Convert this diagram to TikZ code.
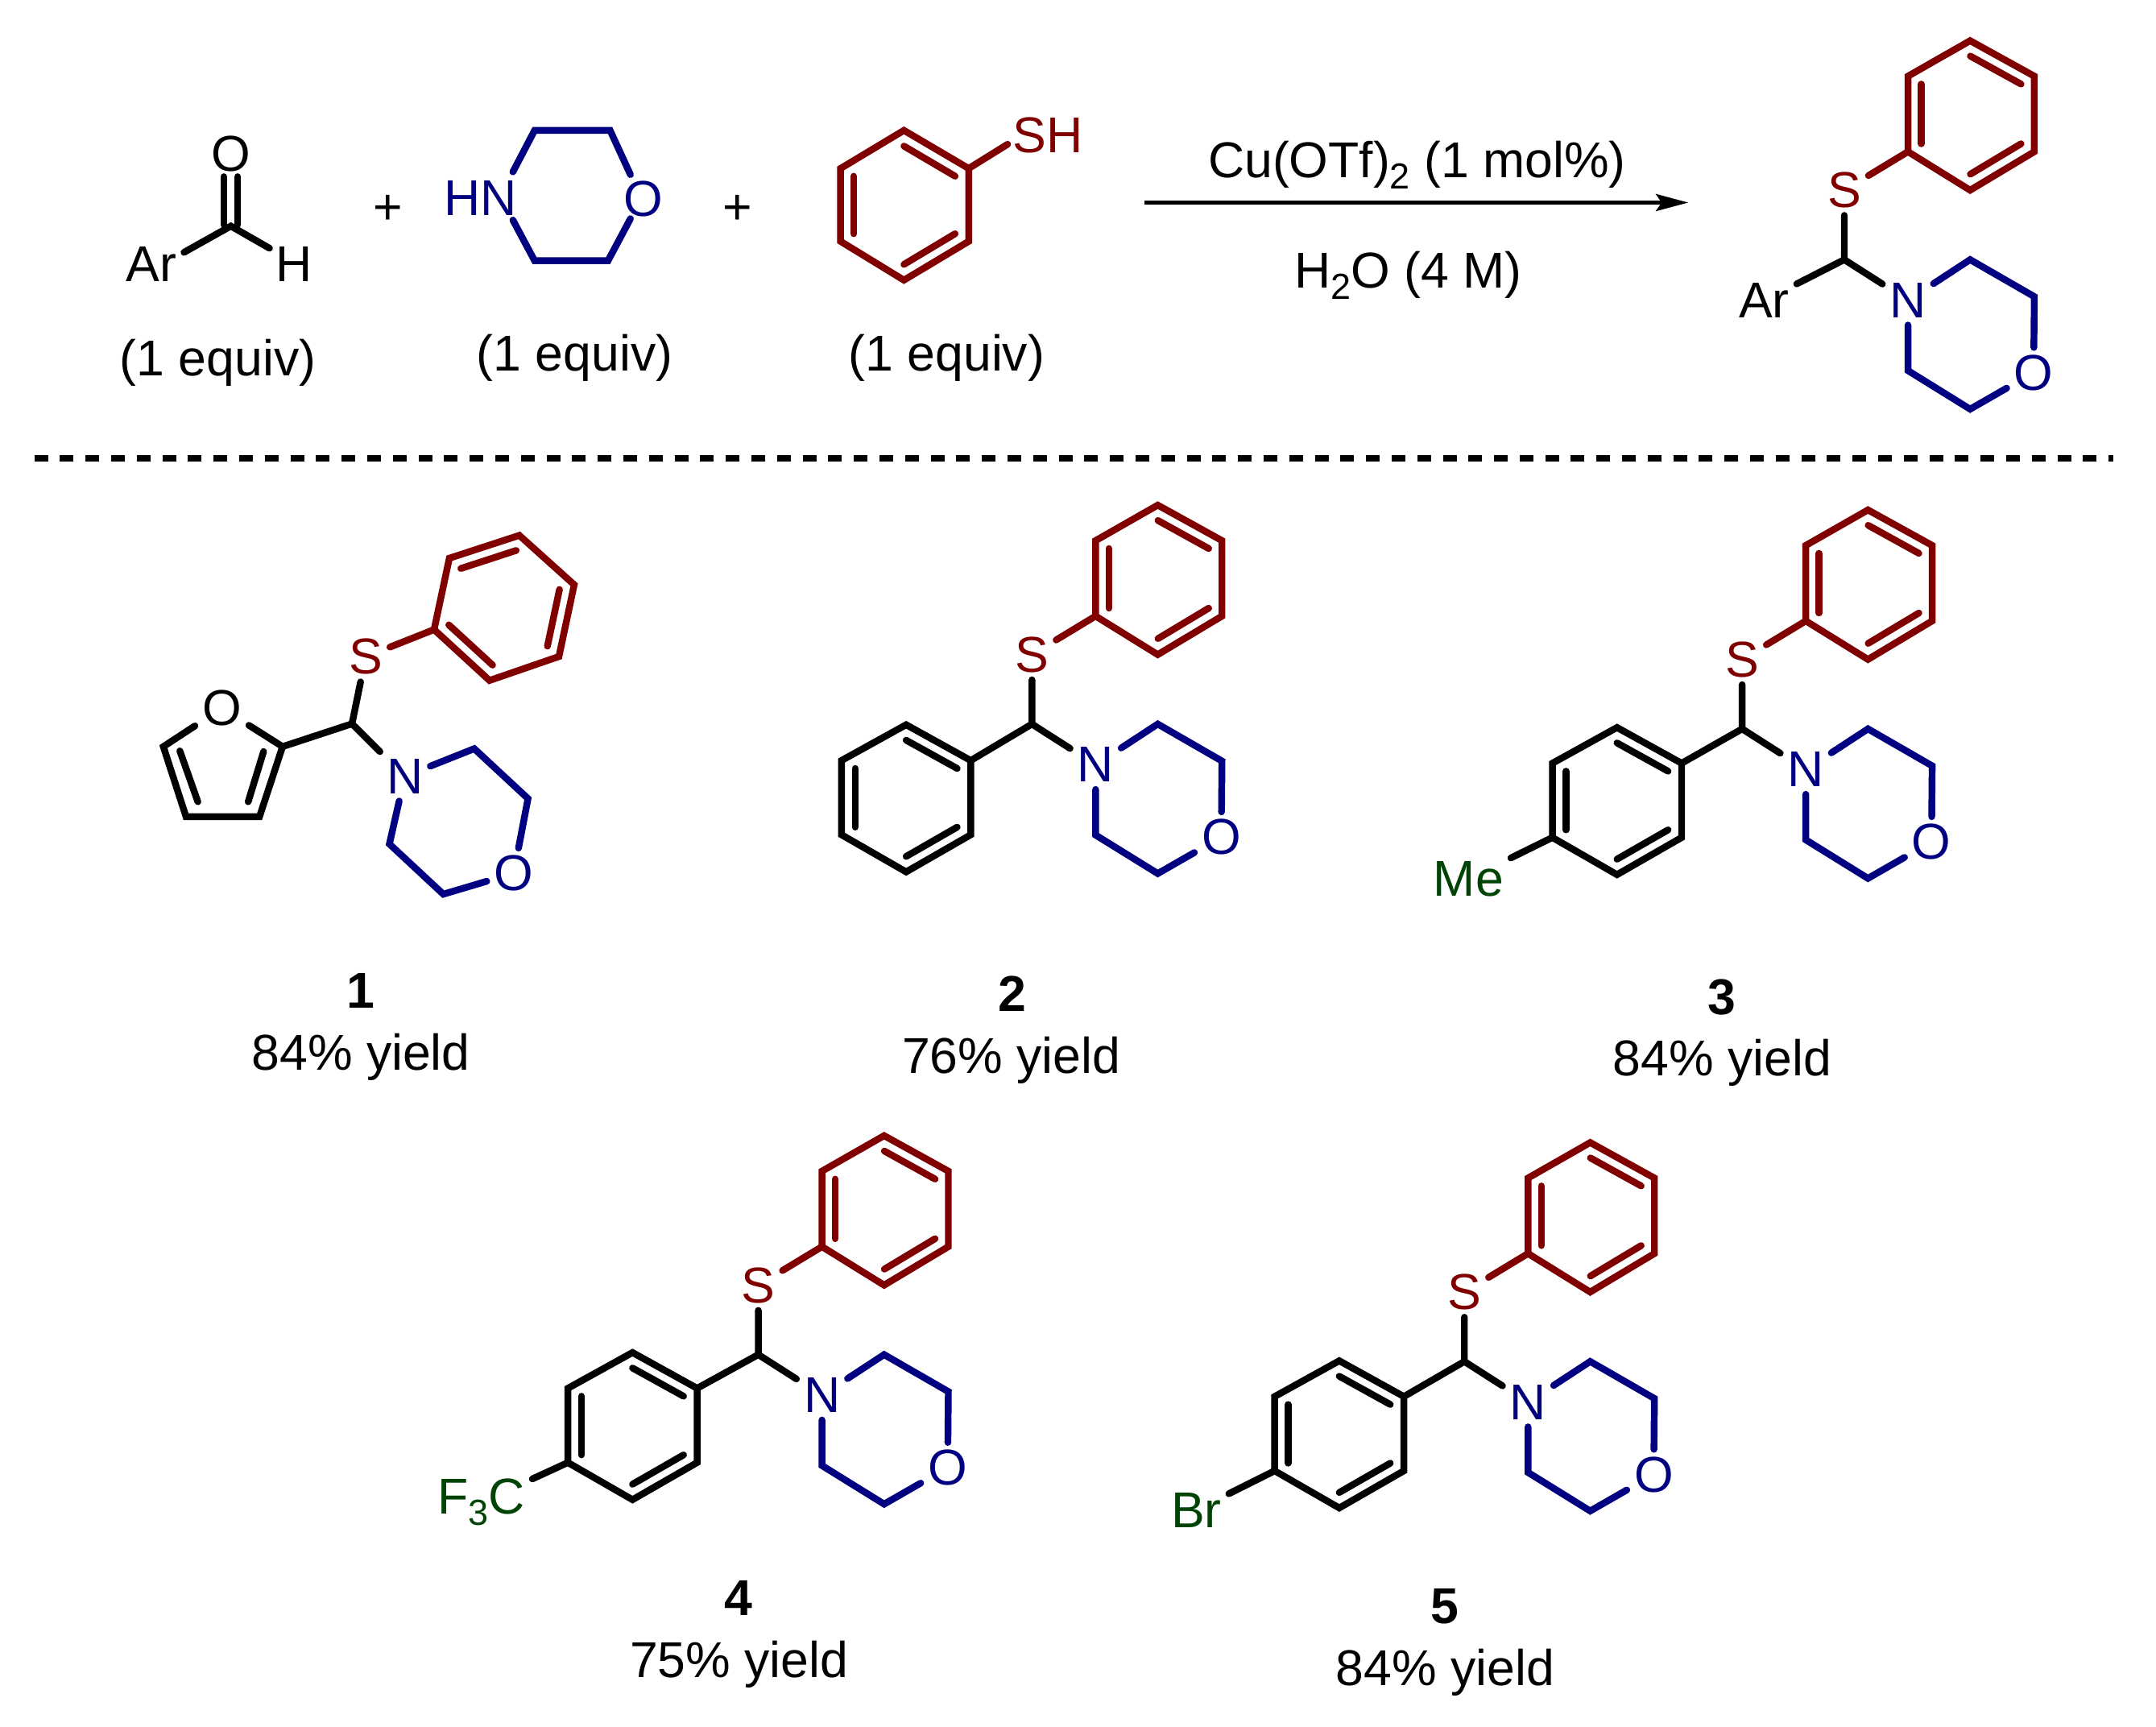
\documentclass[tikz,border=0pt]{standalone}
\usepackage{fontspec}
\setmainfont{Liberation Sans}
\usetikzlibrary{calc,arrows.meta}
\definecolor{molblue}{RGB}{0,0,128}
\definecolor{molred}{RGB}{128,0,0}
\definecolor{molgreen}{RGB}{0,68,5}
\newcommand\bigtxt{\fontsize{17.8}{20}\selectfont}
\newcommand\subs[1]{\raisebox{-0.22em}{\fontsize{12.8}{14}\selectfont #1}}
\tikzset{
  bond/.style={line width=2.4pt,line cap=round,line join=miter},
  atom/.style={inner sep=2.4pt,font=\bigtxt},
  caption/.style={inner sep=0pt,anchor=base,font=\bigtxt},
}
% aromatic six ring: colour, then six corners; inner bonds on edges 1-2, 3-4, 5-6
\newcommand\aromatic[7]{%
  \coordinate (r1) at #2; \coordinate (r2) at #3; \coordinate (r3) at #4;
  \coordinate (r4) at #5; \coordinate (r5) at #6; \coordinate (r6) at #7;
  \coordinate (rc) at ($(r1)!.5!(r4)$);
  \draw[bond,#1] (r1)--(r2)--(r3)--(r4)--(r5)--(r6)--cycle;
  \draw[bond,#1] ($(rc)!.79!(r1)$)--($(rc)!.79!(r2)$);
  \draw[bond,#1] ($(rc)!.79!(r3)$)--($(rc)!.79!(r4)$);
  \draw[bond,#1] ($(rc)!.79!(r5)$)--($(rc)!.79!(r6)$);
}
% common product core around the CH carbon: x, y, name prefix
\newcommand\prodcore[3]{%
  \begin{scope}[shift={(#1,#2)}]
    \coordinate (#3c) at (0,0);
    \node[atom,text=molred] (#3S) at (0,-50.5) {S};
    \node[atom,text=molblue] (#3N) at (46.3,29.6) {N};
    \node[atom,text=molblue] (#3O) at (137.7,82.2) {O};
    \coordinate (#3ip) at (46.3,-78.5);
    \coordinate (#3m1) at (91.5,0);
    \coordinate (#3m2) at (138.2,26.9);
    \coordinate (#3m3) at (91.5,108.7);
    \coordinate (#3m4) at (46.3,80.7);
    \aromatic{molred}{(46.3,-78.5)}{(46.3,-133.4)}{(91.5,-159.2)}{(138.2,-133.4)}{(138.2,-78.5)}{(91.5,-50.5)}
    \draw[bond,molred] (#3S)--(#3ip);
    \draw[bond] (#3S)--(#3c)--(#3N);
    \draw[bond,molblue] (#3N)--(#3m1)--(#3m2)--(#3O);
    \draw[bond,molblue] (#3N)--(#3m4)--(#3m3)--(#3O);
  \end{scope}}
% para substituted aryl on a core
\newcommand\aryl[3]{%
  \begin{scope}[shift={(#1,#2)}]
    \coordinate (#3a) at (-44,29);
    \coordinate (#3p) at (-138,83);
    \aromatic{black}{(-91,3)}{(-44,29)}{(-44,83)}{(-91,110)}{(-138,83)}{(-138,29)}
    \draw[bond] (#3c)--(#3a);
  \end{scope}}
\begin{document}
\begin{tikzpicture}[x=0.017073cm,y=-0.017073cm]
\useasboundingbox (0,0) rectangle (1568,1255.8);
% --- aldehyde
\node[atom] (aO) at (167.9,112) {O};
\coordinate (aC) at (167.9,164.4);
\node[caption] (aAr) at (110,205) {Ar};
\node[caption] (aH) at (214,205) {H};
\coordinate (aCl) at (162.7,163.4); \coordinate (aCr) at (172.9,163.4);
\coordinate (aOl) at (162.7,128.5); \coordinate (aOr) at (172.9,128.5);
\coordinate (aAe) at (133.8,183.5); \coordinate (aHe) at (196,180.5);
\draw[bond] (aCl)--(aOl);
\draw[bond] (aCr)--(aOr);
\draw[bond] (aAe)--(aC)--(aHe);
% --- plus signs
\node[inner sep=0pt,font=\bigtxt] (plus1) at (282,152.5) {+};
\node[inner sep=0pt,font=\bigtxt] (plus2) at (536.6,152.5) {+};
% --- morpholine
\node[atom,text=molblue] (mHN) at (349.5,144) {HN};
\node[atom,text=molblue] (mO) at (468,144.7) {O};
\coordinate (mv1) at (388.8,94.8); \coordinate (mv2) at (443.7,94.8);
\coordinate (mv3) at (442.2,189.6); \coordinate (mv4) at (388.8,189.6);
\coordinate (me1) at (373,125); \coordinate (me2) at (373,160);
\coordinate (me3) at (458.5,127); \coordinate (me4) at (458.5,159);
\draw[bond,molblue] (me1)--(mv1)--(mv2)--(me3);
\draw[bond,molblue] (me2)--(mv4)--(mv3)--(me4);
% --- thiophenol
\aromatic{molred}{(657.4,94.8)}{(704.5,122.5)}{(704.5,175.5)}{(657.4,203.7)}{(611.3,175.5)}{(611.3,122.5)}
\node[atom,text=molred] (tSH) at (762,98.3) {SH};
\coordinate (tip) at (704.5,122.5); \coordinate (tend) at (732.8,104.9);
\draw[bond,molred] (tip)--(tend);
% --- equiv labels
\node[caption] (eq1) at (158.5,273) {(1 equiv)};
\node[caption] (eq2) at (418,270) {(1 equiv)};
\node[caption] (eq3) at (688.5,270) {(1 equiv)};
% --- arrow
\coordinate (arrS) at (832.5,147.3); \coordinate (arrE) at (1227.8,147.3);
\draw[line width=1.4pt,-{Stealth[length=0.4cm,width=0.21cm,inset=0.07cm]}] (arrS)--(arrE);
\node[caption] (cat) at (1030.5,129) {Cu(OTf)\subs{2} (1 mol\%)};
\node[caption] (sol) at (1024,209.5) {H\subs{2}O (4 M)};
% --- product
\prodcore{1341.3}{188.8}{p}
\node[atom] (pAr) at (1283,218.5) {Ar};
\draw[bond] (pc)--(pAr);
% --- dashed separator
\coordinate (dL) at (25,333.3); \coordinate (dR) at (1537,333.3);
\draw[line width=2.4pt,dash pattern=on 0.17cm off 0.148cm] (dL)--(dR);
% --- compound 1
\begin{scope}
\node[atom,text=molred] (aS) at (266,477.5) {S};
\coordinate (ac) at (256,526.3);
\aromatic{molred}{(315.7,457.8)}{(356,494.8)}{(406.5,477.4)}{(417.6,425.2)}{(377.7,389.3)}{(326.8,405.9)}
\coordinate (aip) at (315.7,457.8);
\draw[bond,molred] (aS)--(aip);
\node[atom,text=molblue] (aN) at (294.4,564.5) {N};
\node[atom,text=molblue] (aMO) at (373.6,635) {O};
\coordinate (am1) at (344.9,544.4); \coordinate (am2) at (384,580.7);
\coordinate (am3) at (322.4,650.2); \coordinate (am4) at (283.2,613.7);
\draw[bond] (aS)--(ac)--(aN);
\draw[bond,molblue] (aN)--(am1)--(am2)--(aMO);
\draw[bond,molblue] (aN)--(am4)--(am3)--(aMO);
\node[atom] (fO) at (161.4,515) {O};
\coordinate (f2) at (205.5,542.9); \coordinate (f3) at (188.7,593.9);
\coordinate (f4) at (135.3,593.9); \coordinate (f5) at (118.8,542.9);
\coordinate (fi1) at (130.8,546); \coordinate (fi2) at (143.9,583);
\coordinate (fi3) at (191.7,546.5); \coordinate (fi4) at (180.5,583);
\draw[bond] (ac)--(f2);
\draw[bond] (fO)--(f2)--(f3)--(f4)--(f5)--(fO);
\draw[bond] (fi1)--(fi2);
\draw[bond] (fi3)--(fi4);
\end{scope}
\node[caption,font=\bigtxt\bfseries] (n1) at (262.5,733) {1};
\node[caption] (y1) at (262.5,778.4) {84\% yield};
% --- compound 2
\prodcore{750.5}{526.5}{b}
\aryl{750}{524}{b}
\node[caption,font=\bigtxt\bfseries] (n2) at (736,735.5) {2};
\node[caption] (y2) at (735.5,780.5) {76\% yield};
% --- compound 3
\prodcore{1267}{530}{c}
\aryl{1267}{526}{c}
\node[atom,text=molgreen] (cMe) at (1068,639) {Me};
\draw[bond] (cp)--(cMe);
\node[caption,font=\bigtxt\bfseries] (n3) at (1252,737.5) {3};
\node[caption] (y3) at (1252.5,782.5) {84\% yield};
% --- compound 4
\prodcore{551.5}{985}{d}
\aryl{551}{980.5}{d}
\node[atom,text=molgreen] (dF) at (350,1092.5) {F\subs{3}C};
\draw[bond] (dp)--(dF);
\node[caption,font=\bigtxt\bfseries] (n4) at (537,1174.5) {4};
\node[caption] (y4) at (537.5,1219.5) {75\% yield};
% --- compound 5
\prodcore{1065}{990}{e}
\aryl{1065}{986.5}{e}
\node[atom,text=molgreen] (eBr) at (870,1098) {Br};
\draw[bond] (ep)--(eBr);
\node[caption,font=\bigtxt\bfseries] (n5) at (1051,1180.5) {5};
\node[caption] (y5) at (1051,1225.5) {84\% yield};
\end{tikzpicture}
\end{document}
